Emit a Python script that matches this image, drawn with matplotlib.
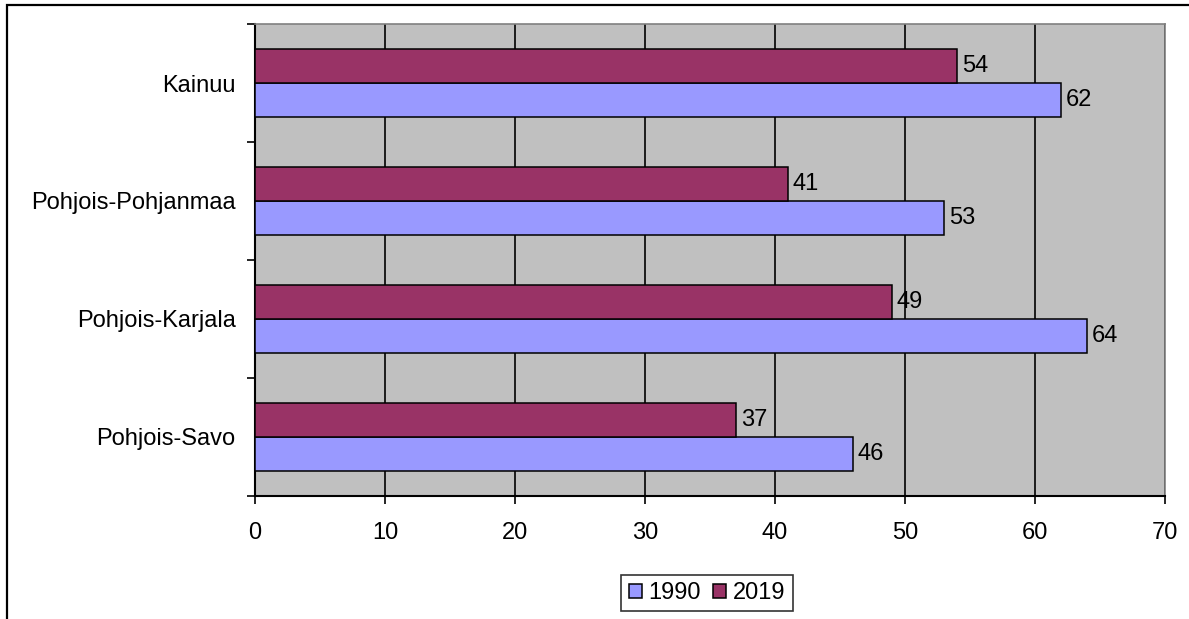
import matplotlib
matplotlib.use("Agg")
import matplotlib.pyplot as plt
from matplotlib.patches import Rectangle
import numpy as np

# Regions listed bottom to top as drawn on the y axis
regions = ["Pohjois-Savo", "Pohjois-Karjala", "Pohjois-Pohjanmaa", "Kainuu"]
values_1990 = [46, 64, 53, 62]
values_2019 = [37, 49, 41, 54]
series_labels = ["1990", "2019"]
x_ticks = [0, 10, 20, 30, 40, 50, 60, 70]

color_1990 = "#9999FF"
color_2019 = "#993366"
plot_bg = "#C0C0C0"
FS = 17

plt.rcParams["font.family"] = ["Liberation Sans", "DejaVu Sans"]

W, H = 1189, 619
fig = plt.figure(figsize=(W / 100, H / 100), dpi=100)
fig.patch.set_facecolor("white")

# Outer chart frame (runs off the right and bottom edges)
fig.patches.append(Rectangle((7 / W, -0.2), 1.2, 1 - 5 / H + 0.2,
                             transform=fig.transFigure, fill=False,
                             edgecolor="black", linewidth=1.6))

ax = fig.add_axes([255 / W, 1 - 496 / H, (1165 - 255) / W, (496 - 24) / H])
ax.set_facecolor(plot_bg)

y = np.arange(len(regions))
h = 0.29
bars_1990 = ax.barh(y - h / 2, values_1990, height=h, color=color_1990,
                    edgecolor="black", linewidth=1.1, label=series_labels[0], zorder=3)
bars_2019 = ax.barh(y + h / 2, values_2019, height=h, color=color_2019,
                    edgecolor="black", linewidth=1.1, label=series_labels[1], zorder=3)

for bars, vals in ((bars_1990, values_1990), (bars_2019, values_2019)):
    for b, v in zip(bars, vals):
        ax.annotate(f"{v}", xy=(v, b.get_y() + b.get_height() / 2),
                    xytext=(3.5, 0), textcoords="offset points",
                    ha="left", va="center", fontsize=FS, color="black", zorder=4)

ax.set_xlim(0, 70)
ax.set_ylim(-0.5, len(regions) - 0.5)

ax.set_xticks(x_ticks)
ax.set_xticklabels([str(t) for t in x_ticks], fontsize=FS)
ax.tick_params(axis="x", direction="out", length=6, width=1.2, pad=13, colors="black")

# Tick marks at category boundaries, labels at category centres
ax.set_yticks(np.arange(-0.5, len(regions), 1.0))
ax.set_yticklabels([])
ax.tick_params(axis="y", which="major", direction="out", length=6, width=1.2)
ax.set_yticks(y, minor=True)
ax.set_yticklabels(regions, minor=True, fontsize=FS)
ax.tick_params(axis="y", which="minor", length=0, pad=14)

ax.xaxis.grid(True, color="black", linewidth=1.2, zorder=1)
ax.set_axisbelow(True)

for side in ("left", "bottom"):
    ax.spines[side].set_color("black")
    ax.spines[side].set_linewidth(1.5)
for side in ("top", "right"):
    ax.spines[side].set_color("#808080")
    ax.spines[side].set_linewidth(1.2)

leg = fig.legend(handles=[bars_1990, bars_2019], labels=series_labels,
                 loc="center", bbox_to_anchor=(707 / W, 1 - 593 / H),
                 ncol=2, fontsize=FS, frameon=True, fancybox=False,
                 edgecolor="black", handlelength=0.55, handleheight=0.55,
                 handletextpad=0.3, columnspacing=0.5, borderpad=0.3,
                 borderaxespad=0)
leg.get_frame().set_linewidth(1.2)

fig.savefig("out.png", dpi=100, facecolor="white")
